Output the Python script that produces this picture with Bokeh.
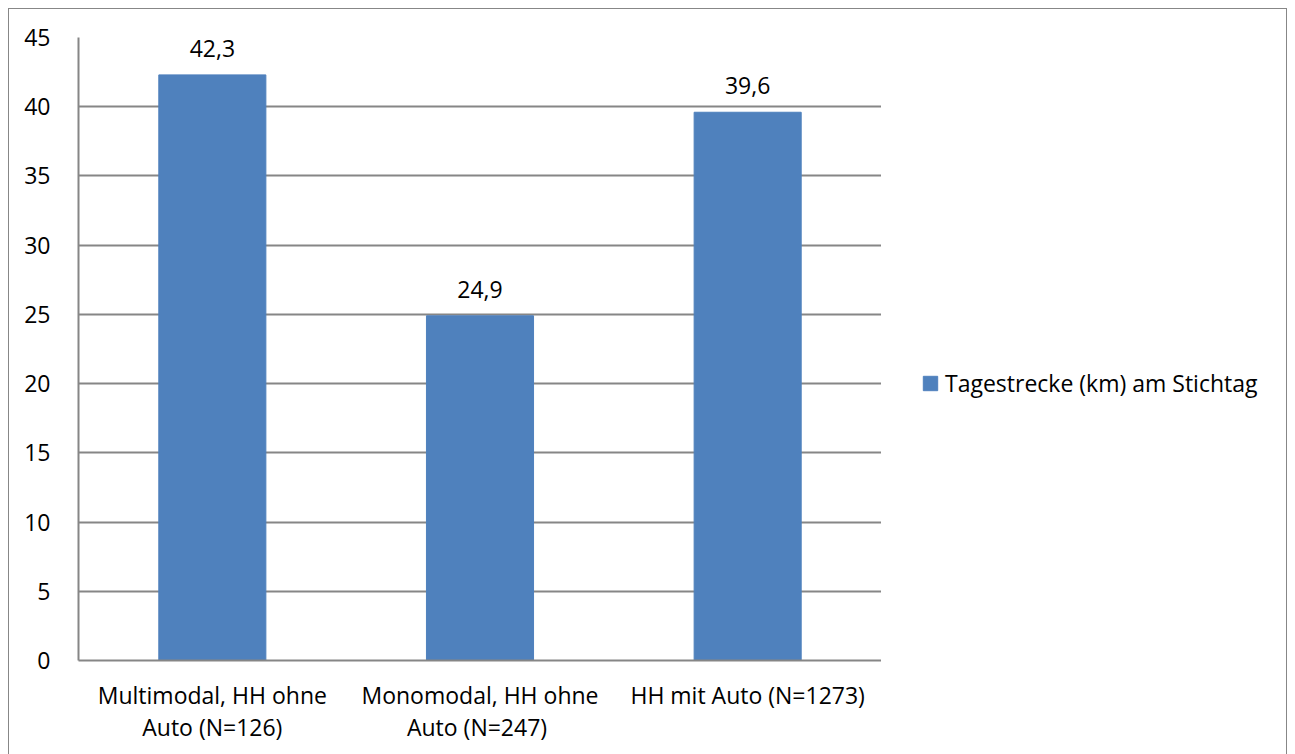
from bokeh.plotting import figure
from bokeh.models import ColumnDataSource, LabelSet, Legend, LegendItem, FixedTicker, Range1d
from bokeh.layouts import row
from bokeh.core.properties import value
from bokeh.embed import file_html
from bokeh.resources import INLINE

categories = ["Multimodal, HH ohne\nAuto (N=126)", "Monomodal, HH ohne\nAuto  (N=247)", "HH mit Auto (N=1273)"]
values = [42.3, 24.9, 39.6]
value_labels = ["42,3", "24,9", "39,6"]
series_name = "Tagestrecke (km) am Stichtag"
y_ticks = [0, 5, 10, 15, 20, 25, 30, 35, 40, 45]

FONT = "Open Sans"
BAR = "#4F81BD"
GRID = "#868686"
H = 760

src = ColumnDataSource(dict(cat=categories, val=values, lab=value_labels))

p = figure(x_range=categories, y_range=(0, 45), width=872, height=H,
           output_backend="svg", toolbar_location=None,
           min_border_left=69, min_border_right=0, min_border_top=28, min_border_bottom=H - 28 - 623)

r = p.vbar(x="cat", top="val", width=0.40, source=src, fill_color=BAR, line_color=BAR)

labels = LabelSet(x="cat", y="val", text="lab", source=src, text_align="center",
                  text_baseline="alphabetic", y_offset=18, text_font=value(FONT),
                  text_font_size="23px", text_color="#000000")
p.add_layout(labels)

p.outline_line_color = None
p.border_fill_color = "white"
p.background_fill_color = "white"

p.xgrid.grid_line_color = None
p.ygrid.grid_line_color = GRID
p.ygrid.grid_line_width = 2
p.yaxis.ticker = FixedTicker(ticks=y_ticks)

for ax in (p.xaxis[0], p.yaxis[0]):
    ax.axis_line_color = GRID
    ax.axis_line_width = 2
    ax.major_tick_line_color = None
    ax.minor_tick_line_color = None
    ax.major_label_text_font = FONT
    ax.major_label_text_font_size = "23px"
    ax.major_label_text_color = "#000000"

p.yaxis.major_label_standoff = 22
p.xaxis.major_label_standoff = 12
p.xaxis.major_label_text_line_height = 1.02

# legend panel (separate figure so the legend is not clipped by the main frame)
lf = figure(width=1279 - 2 - 872, height=H, output_backend="svg", toolbar_location=None,
            x_axis_type=None, y_axis_type=None, min_border=0,
            x_range=Range1d(-20, -10), y_range=Range1d(-20, -10))
lf.outline_line_color = None
lf.xgrid.visible = False
lf.ygrid.visible = False
lf.border_fill_color = "white"
lf.background_fill_color = "white"
lsrc = ColumnDataSource(dict(x=list(range(len(values))), top=values))
lr = lf.vbar(x="x", top="top", width=0.4, source=lsrc, fill_color=BAR, line_color=BAR)

legend = Legend(items=[LegendItem(label=series_name, renderers=[lr])],
                location=(40, 261), label_text_font=FONT, label_text_font_size="23px",
                label_text_color="#000000", glyph_width=18, glyph_height=18,
                border_line_color=None, background_fill_alpha=0, padding=0, margin=0,
                label_standoff=6)
lf.add_layout(legend, "center")

lay = row(p, lf, spacing=0)
lay.styles = {"border": "1px solid #878787", "margin-left": "8px", "margin-top": "8px"}

open("out.html", "w").write(file_html(lay, INLINE))
